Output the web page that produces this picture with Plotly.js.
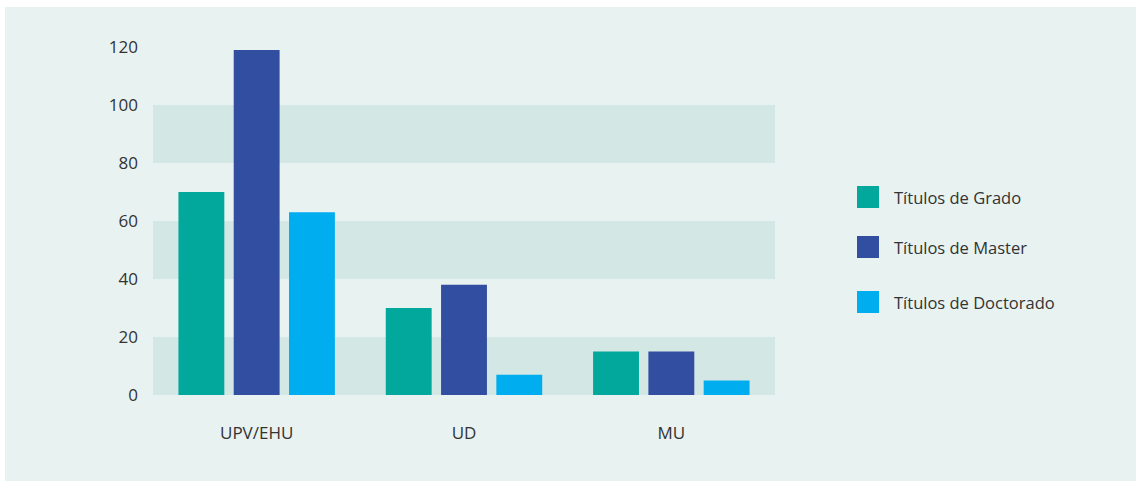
<!DOCTYPE html>
<html>
<head>
<meta charset="utf-8">
<script src="https://cdn.plot.ly/plotly-3.0.1.min.js"></script>
<style>
html,body{margin:0;padding:0;background:#ffffff;width:1136px;height:481px;overflow:hidden;}
#chart{position:absolute;left:5px;top:7px;width:1131px;height:474px;}
</style>
</head>
<body>
<div id="chart"></div>
<script>
const categories = ["UPV/EHU", "UD", "MU"];
const seriesNames = ["Títulos de Grado", "Títulos de Master", "Títulos de Doctorado"];
const grado = [70, 30, 15];
const master = [119, 38, 15];
const doctorado = [63, 7, 5];
const yTicks = [0, 20, 40, 60, 80, 100, 120];
const bandRanges = [[0, 20], [40, 60], [80, 100]];
const colors = ["#02a89b", "#324ea0", "#00aeef"];

const seriesValues = [grado, master, doctorado];
const FONT = "'Open Sans', 'Noto Sans', sans-serif";
const TXT = "#333333";

const traces = seriesValues.map((vals, i) => ({
  type: "bar",
  x: categories,
  y: vals,
  name: seriesNames[i],
  marker: {color: colors[i]},
  showlegend: false,
  hoverinfo: "x+y+name"
}));

const shapes = bandRanges.map(r => ({
  type: "rect", xref: "paper", yref: "y", x0: 0, x1: 1, y0: r[0], y1: r[1],
  fillcolor: "#d3e7e4", line: {width: 0}, layer: "below"
}));

// Custom legend (page pixel geometry converted to paper coordinates)
const plotL = 153, plotR = 775, plotT = 47, plotB = 395;
const px = v => (v - plotL) / (plotR - plotL);
const py = v => (plotB - v) / (plotB - plotT);
const legendCenters = [197, 247, 302];
const annotations = [];
seriesNames.forEach((n, i) => {
  const c = legendCenters[i];
  shapes.push({
    type: "rect", xref: "paper", yref: "paper",
    x0: px(857), x1: px(879), y0: py(c + 11), y1: py(c - 11),
    fillcolor: colors[i], line: {width: 0}
  });
  annotations.push({
    xref: "paper", yref: "paper", x: px(892), y: py(c),
    xanchor: "left", yanchor: "middle", showarrow: false,
    text: n, font: {family: FONT, size: 16.5, color: TXT}
  });
});

const layout = {
  width: 1131, height: 474,
  margin: {l: 148, r: 361, t: 40, b: 86},
  paper_bgcolor: "#e8f2f1",
  plot_bgcolor: "rgba(0,0,0,0)",
  barmode: "group",
  bargap: 0.2,
  bargroupgap: 0.17,
  showlegend: false,
  font: {family: FONT, size: 16, color: TXT},
  xaxis: {
    showgrid: false, zeroline: false, showline: false, ticks: "",
    ticklabelstandoff: 26,
    tickfont: {family: FONT, size: 17, color: TXT}
  },
  yaxis: {
    range: [0, 120], tickvals: yTicks, ticktext: yTicks.map(String),
    showgrid: false, zeroline: false, showline: false, ticks: "",
    ticklabelstandoff: 14,
    tickfont: {family: FONT, size: 17, color: TXT}
  },
  shapes: shapes,
  annotations: annotations
};

Plotly.newPlot("chart", traces, layout, {displayModeBar: false, staticPlot: true});
</script>
</body>
</html>
